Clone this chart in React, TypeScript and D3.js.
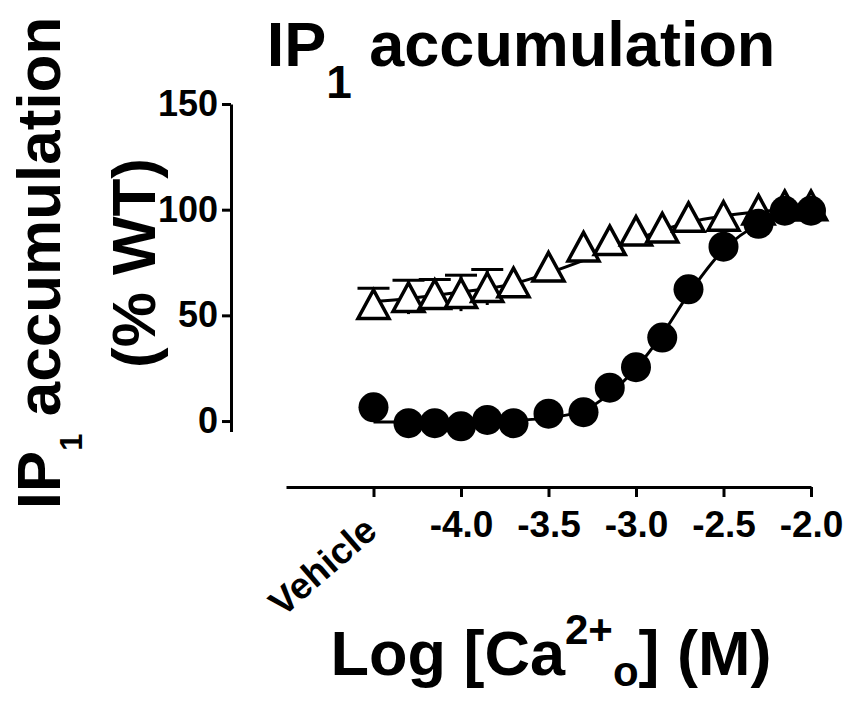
import React, { useRef, useEffect } from "react";
import * as d3 from "d3";

// log [Ca2+] in M; -4.5 stands for the vehicle
const concs = [-4.5, -4.3, -4.15, -4.0, -3.85, -3.7, -3.5, -3.3, -3.15, -3.0, -2.85, -2.7, -2.5, -2.3, -2.15, -2.0];
const circleVals = [6.5, -1, -1, -2.5, 0.5, -1, 3.5, 4.2, 15.8, 25.5, 39.5, 62.3, 82.5, 93.3, 99.5, 99.5];
const triangleVals = [55.3, 58.6, 60, 60.5, 63.3, 65.6, 73, 82.5, 85.5, 90, 91.5, 96.5, 97, 100, 102, 102];
const triangleErr = [7.5, 8, 7, 8.5, 8.4, 0, 0, 0, 0, 0, 0, 0, 0, 0, 0, 0];

// fitted curves
const circleFitX = [-4.5, -4.3, -4.0, -3.7, -3.5, -3.3, -3.15, -3.0, -2.85, -2.7, -2.5, -2.3, -2.15, -2.0];
const circleFitY = [-0.5, -0.5, -0.3, 0.3, 1.5, 5, 13, 25, 41, 60, 81, 93, 97, 99];
const triFitX = [-4.5, -4.3, -4.0, -3.7, -3.5, -3.3, -3.0, -2.7, -2.5, -2.3, -2.0];
const triFitY = [56.5, 58, 61, 65, 70, 76, 86, 94, 97, 99, 100.5];

const xTicks = [-4.5, -4.0, -3.5, -3.0, -2.5, -2.0];
const yTicks = [0, 50, 100, 150];

const font = "'Liberation Sans', Arial, sans-serif";

export default function App() {
	const refX = useRef(null);
	const refY = useRef(null);

	let layout = {"width": 847, "height": 704, "left": 286, "right": 811, "top": 104, "bottom": 431.6,
				  "yAxisX": 231, "xAxisY": 487};

	let x = d3.scaleLinear().domain([-5, -2]).range([layout.left, layout.right]);
	let y = d3.scaleLinear().domain([-5, 150]).range([layout.bottom, layout.top]);

	useEffect(() => {
		let gx = d3.select(refX.current);
		gx.attr("transform", `translate(0, ${layout.xAxisY})`)
			.call(d3.axisBottom(x).tickValues(xTicks).tickSize(10).tickSizeOuter(0).tickPadding(14)
				.tickFormat(d => d === -4.5 ? "Vehicle" : d.toFixed(1)));
		gx.attr("font-family", font).attr("font-size", 37).attr("font-weight", "bold");
		gx.selectAll("path, line").attr("stroke", "black").attr("stroke-width", 3);
		gx.selectAll("text").attr("fill", "black").attr("dy", "0.71em");
		gx.selectAll(".tick text").filter(d => d === -4.5)
			.attr("text-anchor", "end")
			.attr("dy", "0")
			.attr("y", 0)
			.attr("transform", "translate(5, 47) rotate(-41)")
			.attr("font-size", 37);

		let gy = d3.select(refY.current);
		gy.attr("transform", `translate(${layout.yAxisX}, 0)`)
			.call(d3.axisLeft(y).tickValues(yTicks).tickSize(9).tickSizeOuter(0).tickPadding(4));
		gy.attr("font-family", font).attr("font-size", 36).attr("font-weight", "bold");
		gy.selectAll("path, line").attr("stroke", "black").attr("stroke-width", 3);
		gy.selectAll("text").attr("fill", "black");
	}, []);

	let line = d3.line().x(d => x(d[0])).y(d => y(d[1])).curve(d3.curveMonotoneX);
	let circlePts = concs.map((c, i) => [c, circleVals[i]]);
	let triPts = concs.map((c, i) => [c, triangleVals[i], triangleErr[i]]);
	let triSize = 31;
	let triPath = (cx, cy) => {
		let h = triSize * 0.92;
		return `M${cx},${cy - h / 2}L${cx + triSize / 2},${cy + h / 2}L${cx - triSize / 2},${cy + h / 2}Z`;
	};

	return (
		<div style={{position: "absolute", left: 0, top: 0}}>
			<svg width={layout.width} height={layout.height} style={{display: "block", background: "white"}}>
				<text x={521} y={66} textAnchor="middle" fontFamily={font} fontWeight="bold" fontSize={63}
					  style={{whiteSpace: "pre"}}>
					<tspan>IP</tspan>
					<tspan fontSize={46} dy={32}>1</tspan>
					<tspan dy={-32}> accumulation</tspan>
				</text>
				<text transform="translate(60, 263) rotate(-90)" textAnchor="middle" fontFamily={font}
					  fontWeight="bold" fontSize={62} style={{whiteSpace: "pre"}}>
					<tspan>IP</tspan>
					<tspan fontSize={31} dy={22}>1</tspan>
					<tspan dy={-22}> accumulation</tspan>
				</text>
				<text transform="translate(155, 263) rotate(-90)" textAnchor="middle" fontFamily={font}
					  fontWeight="bold" fontSize={62}>(% WT)</text>
				<text x={551} y={675} textAnchor="middle" fontFamily={font} fontWeight="bold" fontSize={63}
					  style={{whiteSpace: "pre"}}>
					<tspan>Log [Ca</tspan>
					<tspan fontSize={42} dy={-31}>2+</tspan>
					<tspan fontSize={42} dy={42}>o</tspan>
					<tspan dy={-11}>] (M)</tspan>
				</text>

				<g ref={refX} />
				<g ref={refY} />

				<path d={line(triFitX.map((v, i) => [v, triFitY[i]]))} fill="none" stroke="black" strokeWidth={3} />
				<path d={line(circleFitX.map((v, i) => [v, circleFitY[i]]))} fill="none" stroke="black" strokeWidth={3} />

				<g>
					{triPts.filter(d => d[2] > 0).map((d, i) => (
						<g key={i}>
							<line x1={x(d[0])} x2={x(d[0])} y1={y(d[1] - d[2])} y2={y(d[1] + d[2])}
								  stroke="black" strokeWidth={3} />
							<line x1={x(d[0]) - 16} x2={x(d[0]) + 16} y1={y(d[1] + d[2])} y2={y(d[1] + d[2])}
								  stroke="black" strokeWidth={3} />
						</g>
					))}
					{triPts.map((d, i) => (
						<path key={i} d={triPath(x(d[0]), y(d[1]))} fill="white" stroke="black"
							  strokeWidth={3.5} strokeLinejoin="miter" />
					))}
				</g>
				<g>
					{circlePts.map((d, i) => (
						<circle key={i} cx={x(d[0])} cy={y(d[1])} r={15} fill="black" />
					))}
				</g>
			</svg>
		</div>
	);
}
